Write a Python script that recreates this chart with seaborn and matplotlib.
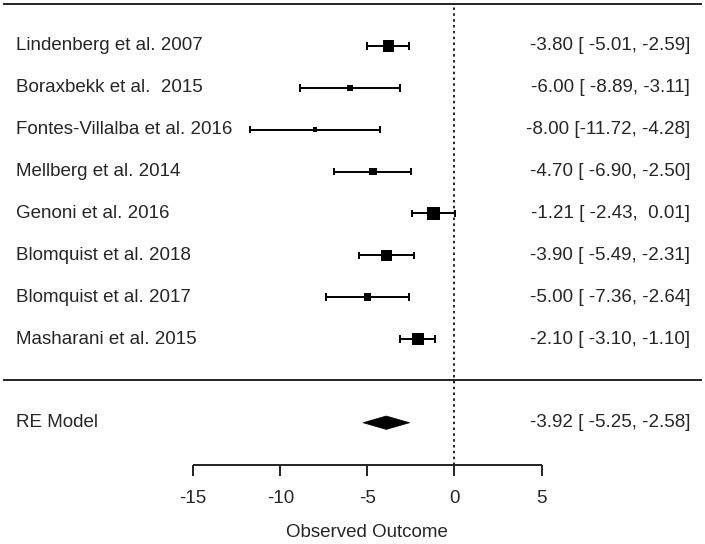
#!/usr/bin/env python3
# coding: utf-8

import pandas as pd
import seaborn as sns
import matplotlib.pyplot as plt

# ------------------------------------------------
# Data
# ------------------------------------------------
studies = ["Lindenberg et al. 2007", "Boraxbekk et al.  2015",
           "Fontes-Villalba et al. 2016", "Mellberg et al. 2014",
           "Genoni et al. 2016", "Blomquist et al. 2018",
           "Blomquist et al. 2017", "Masharani et al. 2015"]
estimate = [-3.80, -6.00, -8.00, -4.70, -1.21, -3.90, -5.00, -2.10]
ci_low = [-5.01, -8.89, -11.72, -6.90, -2.43, -5.49, -7.36, -3.10]
ci_high = [-2.59, -3.11, -4.28, -2.50, 0.01, -2.31, -2.64, -1.10]
weights = [16.0, 8.0, 5.5, 10.5, 17.3, 15.5, 10.0, 17.5]

re_label = "RE Model"
re_est, re_low, re_high = -3.92, -5.25, -2.58

xticks = [-15, -10, -5, 0, 5]
xlabel = "Observed Outcome"

# ------------------------------------------------
# Setup
# ------------------------------------------------
sns.set_style("white")
plt.rcParams['font.family'] = ['Liberation Sans', 'DejaVu Sans']
fs = 13.5
lw = 1.4

k = len(studies)
df = pd.DataFrame({"study": studies, "est": estimate, "lo": ci_low,
                   "hi": ci_high, "w": weights})
df["row"] = list(range(k, 0, -1))
wmin, wmax = df["w"].min(), df["w"].max()
side_px = 4.7 + 7.6 * (df["w"] - wmin) / (wmax - wmin)
df["s"] = (side_px * 0.72) ** 2

fig = plt.figure(figsize=(7.05, 5.44), dpi=100)
ax = fig.add_axes([0, 0, 1, 1])
ax.set_xlim(-26.09, 14.38)
ax.set_ylim(1 - 205 / 41.86, 1 + 339 / 41.86)
ax.axis("off")


def fmt(e, lo, hi):
    return f"{e:5.2f} [{lo:6.2f}, {hi:5.2f}]"


# frame lines
tr_x = ax.get_yaxis_transform()
ax.hlines([k + 1, 0.03], 3 / 705, 702 / 705, transform=tr_x, color="#222222", lw=lw)
ax.vlines(0, -2, k + 1, color="black", lw=1.2, linestyles=[(0, (1.5, 2.0))])

# confidence intervals
cap = 0.088
ax.hlines(df["row"], df["lo"], df["hi"], color="black", lw=lw)
ax.vlines(df["lo"], df["row"] - cap, df["row"] + cap, color="black", lw=lw)
ax.vlines(df["hi"], df["row"] - cap, df["row"] + cap, color="black", lw=lw)

# squares
sns.scatterplot(data=df, x="est", y="row", marker="s", color="black",
                s=df["s"], linewidth=0, ax=ax, legend=False)

# summary diamond
h = 0.16
ax.fill([re_low, re_est, re_high, re_est], [-1, -1 + h, -1, -1 - h],
        color="black", lw=0.5)

# labels
for _, r in df.iterrows():
    ax.text(16 / 705, r["row"], r["study"], transform=tr_x, ha="left",
            va="center", fontsize=fs)
    ax.text(690 / 705, r["row"], fmt(r["est"], r["lo"], r["hi"]),
            transform=tr_x, ha="right", va="center", fontsize=fs)
ax.text(16 / 705, -1, re_label, transform=tr_x, ha="left", va="center", fontsize=fs)
ax.text(690 / 705, -1, fmt(re_est, re_low, re_high),
        transform=tr_x, ha="right", va="center", fontsize=fs)

# x axis
ax.hlines(-2, xticks[0], xticks[-1], color="#222222", lw=lw)
ax.vlines(xticks, -2 - 0.263, -2, color="#222222", lw=lw)
for t in xticks:
    ax.text(t, -2.82, f"{t}", ha="center", va="center", fontsize=fs)
ax.text(-5, -3.63, xlabel, ha="center", va="center", fontsize=fs)

plt.savefig("out.png", dpi=100)
